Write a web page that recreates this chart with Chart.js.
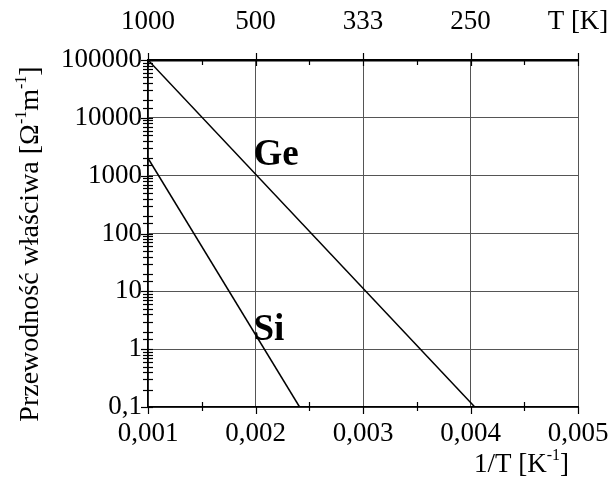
<!DOCTYPE html>
<html>
<head>
<meta charset="utf-8">
<script src="https://cdn.jsdelivr.net/npm/chart.js@4"></script>
<style>
  html, body { margin: 0; padding: 0; background: #fff; }
  #wrap { width: 609px; height: 478px; }
</style>
</head>
<body>
<div id="wrap"><canvas id="chart"></canvas></div>
<script>
// data
const xTickValues = [0.001, 0.002, 0.003, 0.004, 0.005];
const xTickLabels = ['0,001', '0,002', '0,003', '0,004', '0,005'];
const topTickLabels = ['1000', '500', '333', '250', 'T [K]'];
const yTickValues = [0.1, 1, 10, 100, 1000, 10000, 100000];
const yTickLabels = ['0,1', '1', '10', '100', '1000', '10000', '100000'];

const geX = [0.001, 0.00404];
const geY = [100000, 0.1];
const siX = [0.001, 0.00241];
const siY = [2000, 0.1];

const markNames = ['Ge', 'Si'];
const markX = [0.002, 0.002];
const markY = [1550, 1.43];

const FONT = "'Liberation Serif', 'Times New Roman', serif";
const SIZE = 27;
const gridGrey = '#555';

const toPoints = (xs, ys) => xs.map((x, i) => ({ x: x, y: ys[i] }));

// tick marks, titles and labels drawn on top
const extras = {
    id: 'extras',
    afterDraw(chart) {
        const ctx = chart.ctx;
        const x = chart.scales.x;
        const y = chart.scales.y;
        const area = chart.chartArea;
        ctx.save();
        ctx.strokeStyle = '#000';
        ctx.lineWidth = 1.2;

        // y ticks, both sides of the axis
        y.ticks.forEach(t => {
            const py = Math.round(y.getPixelForValue(t.value)) + 0.5;
            const major = yTickValues.includes(t.value);
            ctx.beginPath();
            ctx.moveTo(area.left - (major ? 7 : 5), py);
            ctx.lineTo(area.left + 5, py);
            ctx.stroke();
        });

        // x ticks, majors and the half steps
        for (let i = 0; i < xTickValues.length; i++) {
            const px = Math.round(x.getPixelForValue(xTickValues[i])) + 0.5;
            ctx.beginPath();
            ctx.moveTo(px, area.bottom); ctx.lineTo(px, area.bottom + 7);
            ctx.moveTo(px, area.top - 7); ctx.lineTo(px, area.top + 6);
            ctx.stroke();
            if (i < xTickValues.length - 1) {
                const hx = Math.round(x.getPixelForValue((xTickValues[i] + xTickValues[i + 1]) / 2)) + 0.5;
                ctx.beginPath();
                ctx.moveTo(hx, area.bottom - 5); ctx.lineTo(hx, area.bottom + 4);
                ctx.moveTo(hx, area.top); ctx.lineTo(hx, area.top + 5);
                ctx.stroke();
            }
        }

        ctx.fillStyle = '#000';
        ctx.textBaseline = 'alphabetic';

        // Ge / Si
        ctx.font = 'bold 37px ' + FONT;
        ctx.textAlign = 'left';
        markNames.forEach((n, i) => {
            ctx.fillText(n, x.getPixelForValue(markX[i]) - 2, y.getPixelForValue(markY[i]));
        });

        // text with raised "-1" pieces
        const drawParts = (parts, sx, sy, size) => {
            let cx = sx;
            parts.forEach(p => {
                ctx.font = (p.sup ? '16px ' : size + 'px ') + FONT;
                ctx.fillText(p.t, cx, sy - (p.sup ? 12 : 0));
                cx += ctx.measureText(p.t).width;
            });
        };
        const widthOf = (parts, size) => parts.reduce((w, p) => {
            ctx.font = (p.sup ? '16px ' : size + 'px ') + FONT;
            return w + ctx.measureText(p.t).width;
        }, 0);

        // x title
        const xTitle = [{ t: '1/T [K' }, { t: '-1', sup: true }, { t: ']' }];
        drawParts(xTitle, 569 - widthOf(xTitle, 27), 472, 27);

        // y title, rotated
        const yTitle = [{ t: 'Przewodność właściwa [Ω' }, { t: '-1', sup: true }, { t: 'm' }, { t: '-1', sup: true }, { t: ']' }];
        ctx.translate(38, 244);
        ctx.rotate(-Math.PI / 2);
        drawParts(yTitle, -widthOf(yTitle, 28) / 2, 0, 28);
        ctx.restore();
    }
};

const noSidePad = s => { s.paddingLeft = 0; s.paddingRight = 0; };

new Chart(document.getElementById('chart'), {
    type: 'scatter',
    data: {
        datasets: [
            { label: 'Ge', data: toPoints(geX, geY), showLine: true, borderColor: '#000', borderWidth: 1.5, pointRadius: 0, fill: false },
            { label: 'Si', data: toPoints(siX, siY), showLine: true, borderColor: '#000', borderWidth: 1.5, pointRadius: 0, fill: false }
        ]
    },
    options: {
        responsive: true,
        maintainAspectRatio: false,
        animation: false,
        layout: { padding: { left: 0, right: 31, top: 0, bottom: 0 } },
        plugins: {
            legend: { display: false },
            tooltip: { enabled: false }
        },
        scales: {
            x: {
                type: 'linear',
                position: 'bottom',
                min: 0.001,
                max: 0.005,
                afterBuildTicks: s => { s.ticks = xTickValues.map(v => ({ value: v })); },
                afterFit: s => { s.height = 71; noSidePad(s); },
                ticks: {
                    color: '#000',
                    font: { family: FONT, size: SIZE },
                    padding: 11,
                    maxRotation: 0,
                    autoSkip: false,
                    callback: (v, i) => xTickLabels[i]
                },
                grid: { color: gridGrey, lineWidth: 1, drawTicks: false },
                border: { color: '#000', width: 1.5 }
            },
            x2: {
                type: 'linear',
                position: 'top',
                min: 0.001,
                max: 0.005,
                afterBuildTicks: s => { s.ticks = xTickValues.map(v => ({ value: v })); },
                afterFit: s => { s.height = 60; noSidePad(s); },
                ticks: {
                    color: '#000',
                    font: { family: FONT, size: SIZE },
                    padding: 22,
                    maxRotation: 0,
                    autoSkip: false,
                    callback: (v, i) => topTickLabels[i]
                },
                grid: { display: false, drawTicks: false },
                border: { color: '#000', width: 2.5 }
            },
            y: {
                type: 'logarithmic',
                min: 0.1,
                max: 100000,
                afterFit: s => { s.width = 148; },
                ticks: {
                    color: '#000',
                    font: { family: FONT, size: SIZE },
                    padding: 6,
                    autoSkip: false,
                    callback: v => {
                        const k = yTickValues.findIndex(t => Math.abs(t - v) / t < 1e-6);
                        return k >= 0 ? yTickLabels[k] : '';
                    }
                },
                grid: {
                    drawTicks: false,
                    lineWidth: 1,
                    color: c => (c.tick && yTickValues.some(t => Math.abs(t - c.tick.value) / t < 1e-6)) ? gridGrey : 'rgba(0,0,0,0)'
                },
                border: { color: '#000', width: 1.5 }
            }
        }
    },
    plugins: [extras]
});
</script>
</body>
</html>
